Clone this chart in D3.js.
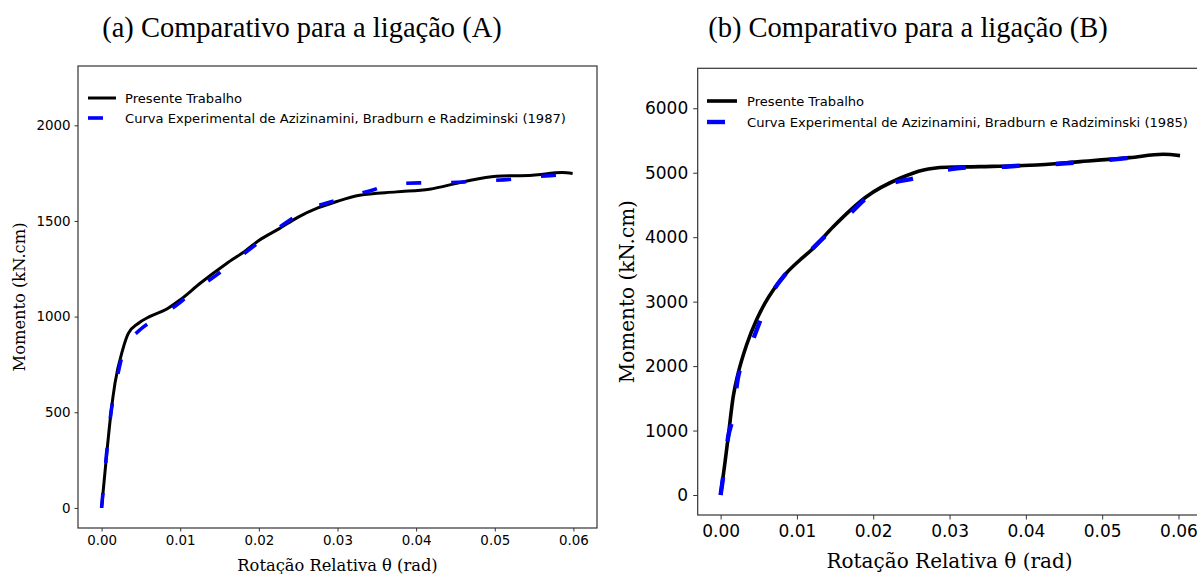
<!DOCTYPE html>
<html>
<head>
<meta charset="utf-8">
<script src="https://cdn.jsdelivr.net/npm/d3@7"></script>
<style>
  body { margin: 0; background: #fff; }
  svg { display: block; }
</style>
</head>
<body>
<div id="chart"></div>
<script>
// Panel (A): present work curve
const thetaA = [0, 0.0007, 0.0012, 0.0017, 0.00267, 0.0034, 0.00465, 0.0061, 0.0083, 0.0100, 0.0125, 0.0159, 0.0184, 0.0200, 0.0226, 0.0250, 0.0275, 0.0300, 0.0328, 0.0375, 0.0417, 0.0459, 0.0502, 0.0548, 0.0586, 0.0599];
const momentA = [0, 303, 500, 651, 825, 912, 964, 1000, 1040, 1088, 1173, 1278, 1347, 1398, 1460, 1520, 1568, 1603, 1634, 1652, 1666, 1704, 1734, 1739, 1753, 1748];
// Panel (A): experimental curve (1987)
const thetaAExp = [0, 0.0006, 0.0012, 0.0017, 0.0024, 0.0028, 0.005, 0.0066, 0.0100, 0.0113, 0.0146, 0.0161, 0.0239, 0.0255, 0.0292, 0.0309, 0.0348, 0.0365, 0.0404, 0.0423, 0.0461, 0.0480, 0.0521, 0.0540, 0.0578, 0.0597];
const momentAExp = [0, 270, 500, 620, 760, 820, 935, 982, 1074, 1121, 1217, 1265, 1504, 1547, 1600, 1622, 1666, 1690, 1699, 1699, 1704, 1709, 1718, 1727, 1739, 1744];

// Panel (B): present work curve
const thetaB = [0, 0.00056, 0.001, 0.00165, 0.0023, 0.0034, 0.0047, 0.0058, 0.0069, 0.0086, 0.0104, 0.0119, 0.01476, 0.0191, 0.0235, 0.0266, 0.0296, 0.034, 0.0405, 0.0471, 0.0536, 0.058, 0.0602];
const momentB = [0, 491, 905, 1525, 1888, 2327, 2715, 2974, 3181, 3440, 3646, 3801, 4163, 4628, 4914, 5043, 5084, 5094, 5115, 5172, 5234, 5286, 5265];
// Panel (B): experimental curve (1985)
const thetaBExp = [0, 0.00034, 0.001, 0.00157, 0.0023, 0.0032, 0.00506, 0.0059, 0.0084, 0.0103, 0.0139, 0.0157, 0.0193, 0.0212, 0.0259, 0.0281, 0.0329, 0.0353, 0.0400, 0.0424, 0.0471, 0.0495, 0.0543, 0.0565];
const momentBExp = [0, 284, 905, 1190, 1835, 2095, 2664, 2933, 3413, 3620, 4034, 4216, 4628, 4783, 4929, 5007, 5084, 5084, 5115, 5125, 5162, 5187, 5240, 5275];

const xTicks = [0, 0.01, 0.02, 0.03, 0.04, 0.05, 0.06];
const yTicksA = [0, 500, 1000, 1500, 2000];
const yTicksB = [0, 1000, 2000, 3000, 4000, 5000, 6000];

const titles = ["(a) Comparativo para a ligação (A)", "(b) Comparativo para a ligação (B)"];
const seriesNames = ["Presente Trabalho", "Curva Experimental de Azizinamini, Bradburn e Radziminski (1987)", "Curva Experimental de Azizinamini, Bradburn e Radziminski (1985)"];

const width = 1197, height = 574;
const svg = d3.select("#chart").append("svg")
    .attr("width", width)
    .attr("height", height);

function zip(a, b) { return a.map((v, i) => ({x: v, y: b[i]})); }

function drawPanel(p) {
    const x = d3.scaleLinear().domain([-0.003, 0.063]).range([p.left, p.right]);
    const y = d3.scaleLinear().domain(p.yDomain).range([p.bottom, p.top]);
    const g = svg.append("g");

    // title
    g.append("text")
        .attr("x", p.titleX).attr("y", 37)
        .attr("text-anchor", "middle")
        .style("font-family", "'Liberation Serif', 'Times New Roman', serif")
        .style("font-size", "28.5px")
        .text(p.title);

    // axes
    const xAxis = g.append("g")
        .attr("transform", `translate(0,${p.bottom})`)
        .call(d3.axisBottom(x).tickValues(xTicks).tickFormat(d3.format(".2f")).tickSize(p.tick).tickPadding(p.pad));
    const yAxis = g.append("g")
        .attr("transform", `translate(${p.left},0)`)
        .call(d3.axisLeft(y).tickValues(p.yTicks).tickFormat(d3.format("d")).tickSize(p.tick).tickPadding(p.pad));
    [xAxis, yAxis].forEach(a => {
        a.select(".domain").remove();
        a.selectAll("line").attr("stroke", "#333").attr("stroke-width", 1);
        a.selectAll("text")
            .style("font-family", "'DejaVu Sans', sans-serif")
            .style("font-size", p.tickFont + "px")
            .attr("fill", "#000");
    });

    // frame
    g.append("rect")
        .attr("x", p.left).attr("y", p.top)
        .attr("width", p.right - p.left).attr("height", p.bottom - p.top)
        .attr("fill", "none").attr("stroke", "#333").attr("stroke-width", 1.2);

    // axis labels
    g.append("text")
        .attr("x", (p.left + p.right) / 2).attr("y", p.xLabelY)
        .attr("text-anchor", "middle")
        .style("font-family", "'DejaVu Serif', serif")
        .style("font-size", p.labelFont + "px")
        .text("Rotação Relativa θ (rad)");
    g.append("text")
        .attr("transform", `translate(${p.yLabelX},${(p.top + p.bottom) / 2}) rotate(-90)`)
        .attr("text-anchor", "middle")
        .style("font-family", "'DejaVu Serif', serif")
        .style("font-size", p.labelFont + "px")
        .text("Momento (kN.cm)");

    const line = d3.line()
        .x(d => x(d.x))
        .y(d => y(d.y))
        .curve(d3.curveMonotoneX);

    g.append("path")
        .datum(zip(p.tx, p.my))
        .attr("d", line)
        .attr("fill", "none")
        .attr("stroke", "#000")
        .attr("stroke-width", p.lw);
    g.append("path")
        .datum(zip(p.txExp, p.myExp))
        .attr("d", line)
        .attr("fill", "none")
        .attr("stroke", "#0000ff")
        .attr("stroke-width", p.lwExp)
        .attr("stroke-dasharray", p.dash);

    // legend
    const lg = g.append("g");
    [0, 1].forEach(i => {
        const ly = p.legY + i * p.legStep;
        lg.append("line")
            .attr("x1", p.legX).attr("x2", p.legX + p.legLen)
            .attr("y1", ly).attr("y2", ly)
            .attr("stroke", i === 0 ? "#000" : "#0000ff")
            .attr("stroke-width", i === 0 ? p.lw : p.lwExp)
            .attr("stroke-dasharray", i === 0 ? null : p.dash);
        lg.append("text")
            .attr("x", p.legX + p.legLen + p.legGap).attr("y", ly)
            .attr("dy", "0.35em")
            .style("font-family", "'DejaVu Sans', sans-serif")
            .style("font-size", "13.1px")
            .text(i === 0 ? seriesNames[0] : p.expName);
    });
}

drawPanel({
    left: 78, right: 597, top: 66, bottom: 528,
    yDomain: [-105, 2310], yTicks: yTicksA,
    tick: 3.5, pad: 4, tickFont: 13.4, labelFont: 16.3,
    xLabelY: 571, yLabelX: 25,
    title: titles[0], titleX: 302,
    tx: thetaA, my: momentA, txExp: thetaAExp, myExp: momentAExp,
    lw: 3, lwExp: 3.6, dash: "15,30",
    legX: 88, legLen: 28, legGap: 9, legY: 98, legStep: 20,
    expName: seriesNames[1]
});

drawPanel({
    left: 697.7, right: 1201.4, top: 68.3, bottom: 515,
    yDomain: [-310, 6620], yTicks: yTicksB,
    tick: 4.5, pad: 5, tickFont: 17, labelFont: 20,
    xLabelY: 568, yLabelX: 634,
    title: titles[1], titleX: 908,
    tx: thetaB, my: momentB, txExp: thetaBExp, myExp: momentBExp,
    lw: 3.6, lwExp: 4.4, dash: "18,36",
    legX: 707, legLen: 30, legGap: 10, legY: 101, legStep: 21,
    expName: seriesNames[2]
});
</script>
</body>
</html>
